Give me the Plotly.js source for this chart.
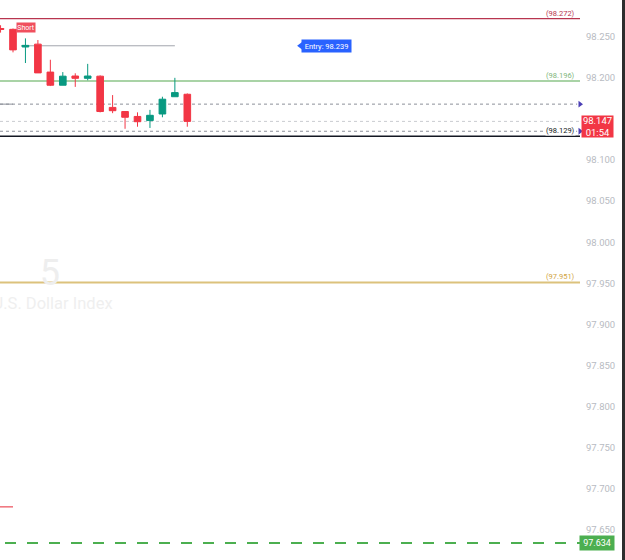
<!DOCTYPE html>
<html>
<head>
<meta charset="utf-8">
<script src="https://cdn.plot.ly/plotly-3.0.1.min.js"></script>
<style>html,body{margin:0;padding:0;background:#fff;}#chart{width:625px;height:560px;}</style>
</head>
<body>
<div id="chart"></div>
<script>
// ---- data ----
const candleIdx = [0,1,2,3,4,5,6,7,8,9,10,11,12,13,14,15];
const opens  = [98.260, 98.259, 98.2375, 98.241, 98.207, 98.191, 98.2022, 98.1994, 98.202, 98.164, 98.159, 98.153, 98.148, 98.156, 98.177, 98.180];
const highs  = [98.264, 98.260, 98.248, 98.246, 98.222, 98.207, 98.2055, 98.217, 98.203, 98.179, 98.159, 98.158, 98.161, 98.177, 98.200, 98.181];
const lows   = [98.255, 98.231, 98.218, 98.206, 98.190, 98.191, 98.189, 98.197, 98.158, 98.157, 98.138, 98.1405, 98.139, 98.152, 98.177, 98.1405];
const closes = [98.259, 98.234, 98.2395, 98.206, 98.191, 98.202, 98.1994, 98.2022, 98.159, 98.160, 98.152, 98.1466, 98.1544, 98.174, 98.182, 98.147];

const levelPrices = [98.272, 98.196, 97.951, 98.129];
const levelLabels = ['(98.272)', '(98.196)', '(97.951)', '(98.129)'];
const levelColors = ['#b8354f', '#a9d3a6', '#dcc27c', '#131722'];
const levelTextColors = ['#b8354f', '#7fb67c', '#d1a441', '#131722'];

const entryPrice = 98.239;
const entryText = 'Entry: 98.239';
const entryStartIdx = 1.65, entryEndIdx = 14.0;
const dashedPrices = [98.168, 98.135];
const currentPrice = 98.147;
const currentText = '98.147<br>01:54';
const stopPrice = 97.678;
const targetPrice = 97.634;
const targetText = '97.634';
const shortLabel = 'Short';
const shortLabelIdx = 2.04, shortLabelPrice = 98.2612;
const watermarkTop = '5';
const watermarkBottom = 'U.S. Dollar Index';

const yTickVals = [98.250, 98.200, 98.100, 98.050, 98.000, 97.950, 97.900, 97.850, 97.800, 97.750, 97.700, 97.650];
const yTickText = ['98.250', '98.200', '98.100', '98.050', '98.000', '97.950', '97.900', '97.850', '97.800', '97.750', '97.700', '97.650'];
const yRange = [97.6133, 98.2947];
const xRange = [-0.044, 46.54];

const FONT = 'Roboto, "Liberation Sans", Arial, sans-serif';

const traces = [
  { // watermark
    type: 'scatter', mode: 'text', x: [3.97], y: [97.9589], text: [watermarkTop],
    textfont: {size: 36, color: '#eeeeee', family: FONT}, textposition: 'middle center',
    hoverinfo: 'skip', showlegend: false, cliponaxis: true
  },
  {
    type: 'scatter', mode: 'text', x: [9.0], y: [97.924], text: [watermarkBottom],
    textfont: {size: 16.5, color: '#efefef', family: FONT}, textposition: 'middle left',
    hoverinfo: 'skip', showlegend: false, cliponaxis: true
  },
  {
    type: 'candlestick', x: candleIdx, open: opens, high: highs, low: lows, close: closes,
    increasing: {line: {color: '#089981', width: 1}, fillcolor: '#089981'},
    decreasing: {line: {color: '#f23645', width: 1}, fillcolor: '#f23645'},
    whiskerwidth: 0, hoverinfo: 'skip', showlegend: false
  },
  { // arrows at end of dashed lines
    type: 'scatter', mode: 'markers', x: [xRange[1], xRange[1]], y: dashedPrices,
    marker: {symbol: 'triangle-right', size: 6, color: '#4b3fb5'},
    cliponaxis: false, hoverinfo: 'skip', showlegend: false
  },
  { // entry label pointer
    type: 'scatter', mode: 'markers', x: [24.1], y: [entryPrice],
    marker: {symbol: 'triangle-left', size: 7, color: '#2962ff'},
    hoverinfo: 'skip', showlegend: false
  }
];

const shapes = [];
levelPrices.forEach((p, i) => {
  shapes.push({type: 'line', xref: 'paper', x0: 0, x1: 1, yref: 'y', y0: p, y1: p,
    line: {color: levelColors[i], width: i === 3 ? 1.5 : (i === 0 ? 1.2 : 2)}, layer: 'below'});
});
shapes.push({type: 'line', xref: 'paper', x0: 0, x1: 0.995, yref: 'y', y0: dashedPrices[0], y1: dashedPrices[0],
  line: {color: '#8c909a', width: 1, dash: '3px,3px'}, layer: 'below'});
shapes.push({type: 'line', xref: 'x', x0: xRange[0], x1: 1.0, yref: 'y', y0: dashedPrices[0], y1: dashedPrices[0],
  line: {color: '#8c909a', width: 1}, layer: 'below'});
shapes.push({type: 'line', xref: 'paper', x0: 0, x1: 0.995, yref: 'y', y0: dashedPrices[1], y1: dashedPrices[1],
  line: {color: '#8c909a', width: 1, dash: '3px,3px'}, layer: 'below'});
shapes.push({type: 'line', xref: 'paper', x0: 0, x1: 1, yref: 'y', y0: currentPrice, y1: currentPrice,
  line: {color: '#c9cbd0', width: 1, dash: 'dot'}, layer: 'below'});
shapes.push({type: 'line', xref: 'x', x0: entryStartIdx, x1: entryEndIdx, yref: 'y', y0: entryPrice, y1: entryPrice,
  line: {color: '#a3a6ad', width: 1}, layer: 'below'});
shapes.push({type: 'line', xref: 'x', x0: xRange[0], x1: 1.0, yref: 'y', y0: stopPrice, y1: stopPrice,
  line: {color: '#ef6f78', width: 1.5}, layer: 'below'});
shapes.push({type: 'line', xref: 'paper', x0: 5/580, x1: 1, yref: 'y', y0: targetPrice, y1: targetPrice,
  line: {color: '#4caf50', width: 2, dash: '11px,11px'}, layer: 'below'});
shapes.push({type: 'rect', xref: 'paper', x0: 622/580, x1: 626/580, yref: 'paper', y0: 0, y1: 1,
  fillcolor: '#2d2d2d', line: {width: 0}});

const annotations = [];
levelPrices.forEach((p, i) => {
  annotations.push({xref: 'paper', x: 576/580, xanchor: 'right', yref: 'y', y: p, yanchor: 'middle', yshift: 5.5,
    text: levelLabels[i], showarrow: false, font: {size: 7.5, color: levelTextColors[i], family: FONT},
    bgcolor: i === 3 ? '#ffffff' : 'rgba(0,0,0,0)', borderpad: 0});
});
annotations.push({xref: 'x', x: 26.2, yref: 'y', y: entryPrice, text: entryText, showarrow: false,
  font: {size: 7.5, color: '#ffffff', family: FONT}, bgcolor: '#2962ff', width: 49, height: 12, borderpad: 0});
annotations.push({xref: 'x', x: shortLabelIdx, yref: 'y', y: shortLabelPrice, text: shortLabel, showarrow: false,
  font: {size: 7, color: '#ffffff', family: FONT}, bgcolor: '#f0505e', width: 18, height: 9, borderpad: 0});
annotations.push({xref: 'paper', x: 597/580, xanchor: 'center', yref: 'y', y: currentPrice, yshift: -5,
  text: currentText, showarrow: false, font: {size: 9.5, color: '#ffffff', family: FONT},
  bgcolor: '#f23645', width: 31, height: 21, borderpad: 0, align: 'center'});
annotations.push({xref: 'paper', x: 597/580, xanchor: 'center', yref: 'y', y: targetPrice,
  text: targetText, showarrow: false, font: {size: 9, color: '#ffffff', family: FONT},
  bgcolor: '#4caf50', width: 34, height: 14, borderpad: 0});

const layout = {
  width: 625, height: 560,
  margin: {l: 0, r: 45, t: 0, b: 0, pad: 0},
  paper_bgcolor: '#ffffff', plot_bgcolor: '#ffffff',
  showlegend: false, hovermode: false,
  boxgap: 0.24,
  font: {family: FONT},
  xaxis: {range: xRange, visible: false, rangeslider: {visible: false}, fixedrange: true},
  yaxis: {side: 'right', range: yRange, tickmode: 'array', tickvals: yTickVals, ticktext: yTickText,
    showgrid: false, zeroline: false, showline: false, ticks: '', ticklabelstandoff: 5,
    tickfont: {size: 9.5, color: '#b8bbc2', family: FONT}, fixedrange: true},
  shapes: shapes,
  annotations: annotations
};

Plotly.newPlot('chart', traces, layout, {displayModeBar: false, staticPlot: true});
</script>
</body>
</html>
